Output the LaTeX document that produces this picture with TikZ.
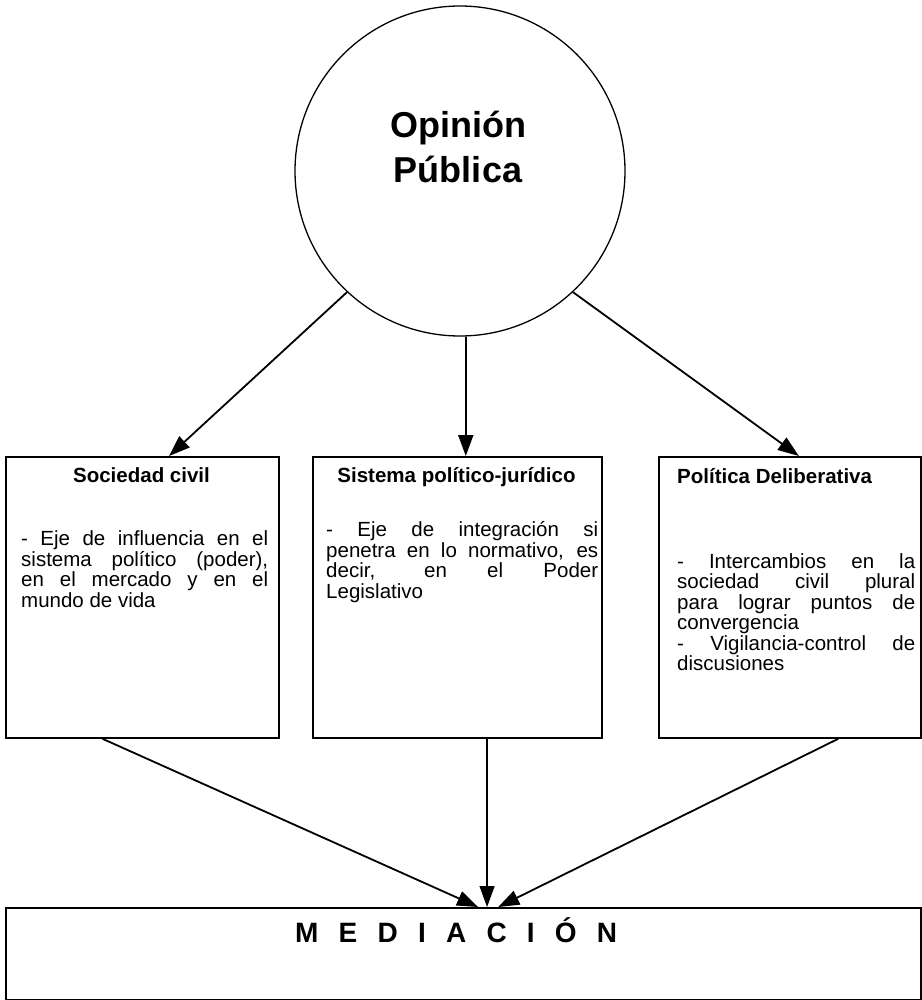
\documentclass[tikz,border=0pt]{standalone}
\usepackage{fontspec}
\setmainfont{Liberation Sans}
\usetikzlibrary{arrows.meta,calc}
\newcommand\jline[2]{\makebox[#1][s]{#2}}
\tikzset{
  box/.style={draw, line width=1.8pt, inner sep=0pt, anchor=north west},
  arr/.style={line width=1.8pt, -{Triangle[length=21pt,width=15pt]}},
  ttl/.style={font=\fontsize{20.5}{22}\selectfont\bfseries, inner sep=0pt, anchor=base},
  bodytxt/.style={inner sep=0pt, anchor=base west, align=left, font=\fontsize{20.5}{20.5}\selectfont},
  bigttl/.style={font=\fontsize{36}{40}\selectfont\bfseries, inner sep=0pt, anchor=base},
}
\begin{document}
\begin{tikzpicture}[x=1pt,y=-1pt]
\useasboundingbox (0,0) rectangle (921,1000);
% circle
\node[draw, circle, line width=1.3pt, minimum size=330pt, inner sep=0pt] (op) at (460,171) {};
\node[bigttl] (op1) at (458,138) {Opinión};
\node[bigttl] (op2) at (458,183) {Pública};
% boxes
\node[box, minimum width=273pt, minimum height=281pt] (sc) at (5,456) {};
\node[box, minimum width=289pt, minimum height=281pt] (sp) at (312,456) {};
\node[box, minimum width=262pt, minimum height=281pt] (pd) at (658,456) {};
\node[box, minimum width=915pt, minimum height=92pt] (med) at (5,907) {};
% titles
\node[ttl] (sct) at (141.5,482) {Sociedad civil};
\node[ttl] (spt) at (456.5,482) {Sistema político-jurídico};
\node[ttl, anchor=base west] (pdt) at (677,483) {Política Deliberativa};
% bodies (anchor = baseline of last line)
\node[bodytxt] (scb) at (21,607) {%
\jline{247pt}{- Eje de influencia en el}\\
\jline{247pt}{sistema político (poder),}\\
\jline{247pt}{en el mercado y en el}\\
mundo de vida};
\node[bodytxt] (spb) at (326,598) {%
\jline{272pt}{- Eje de integración si}\\
\jline{272pt}{penetra en lo normativo, es}\\
\jline{272pt}{decir, en el Poder}\\
Legislativo};
\node[bodytxt] (pdb) at (677,670.5) {%
\jline{238pt}{- Intercambios en la}\\
\jline{238pt}{sociedad civil plural}\\
\jline{238pt}{para lograr puntos de}\\
convergencia\\
\jline{238pt}{- Vigilancia-control de}\\
discusiones};
% mediacion
\node[font=\bfseries\fontsize{28}{32}\selectfont, anchor=base west, inner sep=0pt] (medt) at (295,942) {\makebox[322pt][s]{M E D I A C I Ó N}};
% arrows top
\draw[arr] (op.227) -- ($(sc.north west)!0.597!(sc.north east)$);
\draw[arr] (op.272.5) -- (op.272.5 |- sp.north);
\draw[arr] (op.313.5) -- ($(pd.north west)!0.534!(pd.north east)$);
% arrows bottom
\coordinate (mb) at ($(sp.south west)!0.602!(sp.south east)$);
\draw[arr] ($(sc.south west)!0.355!(sc.south east)$) -- ($(med.north west)!0.516!(med.north east)$);
\draw[arr, line width=1.2pt] (mb) -- (mb |- med.north);
\draw[arr] ($(pd.south west)!0.683!(pd.south east)$) -- ($(med.north west)!0.538!(med.north east)$);
\end{tikzpicture}
\end{document}
